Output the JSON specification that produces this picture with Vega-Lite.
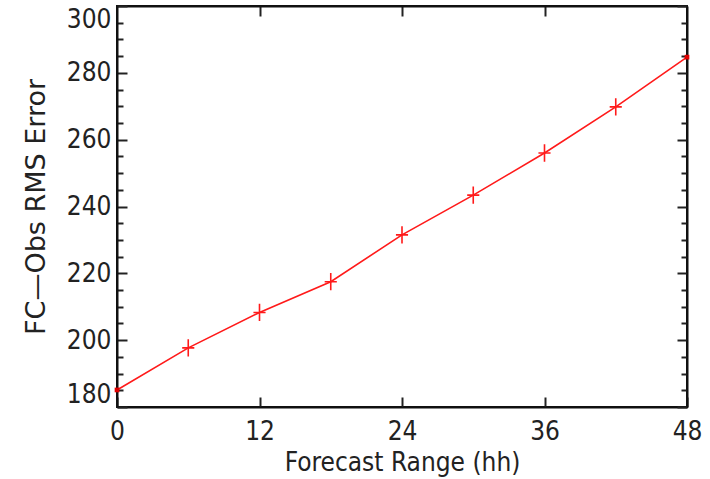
{
  "$schema": "https://vega.github.io/schema/vega-lite/v6.json",
  "width": 570,
  "height": 401,
  "autosize": "none",
  "padding": {"left": 117, "top": 6, "right": 23, "bottom": 72},
  "background": "white",
  "config": {
    "view": {"stroke": "#111", "strokeWidth": 2},
    "axis": {
      "domainColor": "#111",
      "domainWidth": 2,
      "tickColor": "#222",
      "tickWidth": 2,
      "grid": false,
      "labelFont": "DejaVu Sans Condensed, Liberation Sans Narrow, Liberation Sans, sans-serif",
      "titleFont": "DejaVu Sans Condensed, Liberation Sans Narrow, Liberation Sans, sans-serif",
      "labelFontSize": 26,
      "titleFontSize": 26,
      "labelColor": "#222",
      "titleColor": "#222",
      "titleFontWeight": "normal"
    }
  },
  "data": {
    "values": [
      {"hour": 0, "rms": 185.1},
      {"hour": 6, "rms": 197.7},
      {"hour": 12, "rms": 208.3},
      {"hour": 18, "rms": 217.5},
      {"hour": 24, "rms": 231.5},
      {"hour": 30, "rms": 243.4},
      {"hour": 36, "rms": 256.0},
      {"hour": 42, "rms": 269.8},
      {"hour": 48, "rms": 284.7}
    ]
  },
  "layer": [
    {
      "mark": {"type": "line", "color": "#ff1a1a", "strokeWidth": 1.6, "clip": false},
      "encoding": {
        "x": {
          "field": "hour", "type": "quantitative",
          "scale": {"domain": [0, 48], "nice": false, "zero": false},
          "axis": {
            "orient": "bottom",
            "values": [0, 12, 24, 36, 48],
            "tickSize": -10,
            "labelFlush": false,
            "labelPadding": 21,
            "title": "Forecast Range (hh)",
            "titlePadding": 5
          }
        },
        "y": {
          "field": "rms", "type": "quantitative",
          "scale": {"domain": [180, 300], "nice": false, "zero": false},
          "axis": {
            "orient": "left",
            "values": [180,185,190,195,200,205,210,215,220,225,230,235,240,245,250,255,260,265,270,275,280,285,290,295,300],
            "labelExpr": "datum.value % 20 === 0 ? datum.label : ''",
            "tickSize": {"condition": {"test": "datum.value % 20 === 0", "value": -10}, "value": -6},
            "labelPadding": 16,
            "labelFlush": true,
            "title": "FC—Obs RMS Error",
            "titleFont": "DejaVu Sans, sans-serif",
            "titleFontSize": 27,
            "titlePadding": 16
          }
        }
      }
    },
    {
      "transform": [{"filter": "datum.hour > 0 && datum.hour < 48"}],
      "mark": {
        "type": "point",
        "shape": "M-0.7,0H0.7M0,-1V1",
        "filled": false,
        "stroke": "#ff1a1a",
        "strokeWidth": 1.6,
        "size": 300,
        "opacity": 1
      },
      "encoding": {
        "x": {
          "field": "hour", "type": "quantitative",
          "scale": {"domain": [0, 48], "nice": false, "zero": false},
          "axis": {
            "orient": "top",
            "values": [12, 24, 36],
            "tickSize": -10,
            "labels": false,
            "title": null
          }
        },
        "y": {
          "field": "rms", "type": "quantitative",
          "scale": {"domain": [180, 300], "nice": false, "zero": false},
          "axis": {
            "orient": "right",
            "values": [180,185,190,195,200,205,210,215,220,225,230,235,240,245,250,255,260,265,270,275,280,285,290,295,300],
            "tickSize": {"condition": {"test": "datum.value % 20 === 0", "value": -10}, "value": -6},
            "labels": false,
            "title": null
          }
        }
      }
    },
    {
      "transform": [{"filter": "datum.hour === 0 || datum.hour === 48"}],
      "mark": {"type": "square", "color": "#e00000", "size": 22, "opacity": 1, "clip": false},
      "encoding": {
        "x": {"field": "hour", "type": "quantitative", "scale": {"domain": [0, 48], "nice": false, "zero": false}, "axis": null},
        "y": {"field": "rms", "type": "quantitative", "scale": {"domain": [180, 300], "nice": false, "zero": false}, "axis": null}
      }
    }
  ],
  "resolve": {"scale": {"x": "independent", "y": "independent"}}
}
